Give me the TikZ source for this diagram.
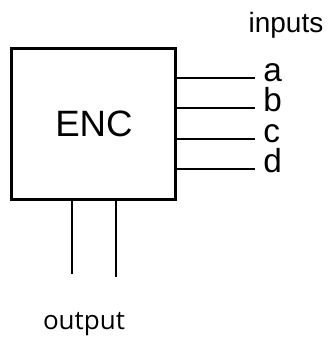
\documentclass[tikz,border=0pt]{standalone}
\usepackage{fontspec}
\setmainfont{Liberation Sans}
\newfontfamily\outfont{Open Sans}
\usetikzlibrary{positioning,calc}
\definecolor{Ink}{HTML}{000000}
\tikzset{
  wire/.style={draw=Ink, line width=2.1pt},
  pin/.style={anchor=mid west, inner sep=0pt, font=\fontsize{25}{25}\selectfont},
}

\begin{document}
\begin{tikzpicture}[x=0.75pt, y=-0.75pt]
        \useasboundingbox (0,0) rectangle (330,337);
        \node[draw=Ink, line width=2.25pt, minimum width=164*0.75pt, minimum height=151*0.75pt,
              inner sep=0pt, font=\fontsize{27.5}{27.5}\selectfont] (enc) at (94,123.5) {ENC};
        % inputs
        \coordinate (ina) at (255,78);
        \coordinate (inb) at (255,108);
        \coordinate (inc) at (255,139);
        \coordinate (ind) at (255,169);
        \node[pin] (a) at ($(ina)+(8,0)$) {a};
        \node[pin] (b) at ($(inb)+(8,0)$) {b};
        \node[pin] (c) at ($(inc)+(8,0)$) {c};
        \node[pin] (d) at ($(ind)+(8,0)$) {d};
        \foreach \p in {ina,inb,inc,ind}
          \draw[wire] (\p -| enc.east) -- (\p);
        \node[font=\fontsize{21}{21}\selectfont] (inputs) at (286,25) {inputs};
        % outputs
        \coordinate (out1) at (72,274);
        \coordinate (out2) at (116,277);
        \draw[wire] (out1 |- enc.south) -- (out1);
        \draw[wire] (out2 |- enc.south) -- (out2);
        \node[font=\outfont\fontsize{19.5}{19.5}\selectfont] (output) at (84,324) {output};
      \end{tikzpicture}
\end{document}
